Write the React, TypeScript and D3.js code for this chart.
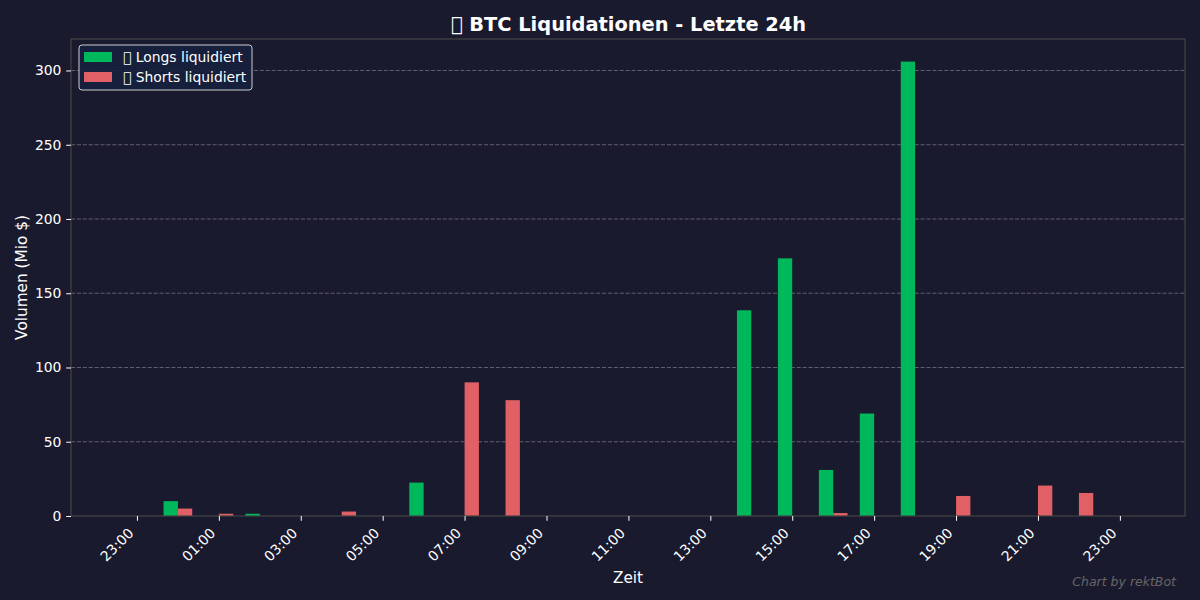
import React, { useRef, useEffect } from 'react';
import * as d3 from 'd3';

const hoursLong = [0, 2, 6, 14, 15, 16, 17, 18];
const valuesLong = [10, 1.5, 22.5, 138.5, 173.5, 31, 69, 306];
const hoursShort = [0, 1, 4, 7, 8, 16, 19, 21, 22];
const valuesShort = [5, 1.5, 3, 90, 78, 2, 13.5, 20.5, 15.5];
const tickHours = [-1, 1, 3, 5, 7, 9, 11, 13, 15, 17, 19, 21, 23];
const yTicks = [0, 50, 100, 150, 200, 250, 300];

const FONT = '"DejaVu Sans"';
const BG = '#1a1a2e';
const GREEN = '#00b85c';
const RED = '#e06065';
const MISSING = '\uE000'; // the reference shows an empty box where its glyph was missing

// hours are counted from midnight of the chart's second day
const toDate = (h: number) => new Date(Date.UTC(2024, 0, 2) + h * 3600000);

const App: React.FC = () => {
  const ref = useRef<SVGSVGElement | null>(null);

  useEffect(() => {
    if (!ref.current) return;
    const svg = d3.select(ref.current);
    svg.selectAll('*').remove();

    const margin = { top: 39, right: 15, bottom: 84, left: 71 };
    const width = 1200;
    const height = 600;

    const x = d3.scaleUtc()
      .domain([toDate(-2.61), toDate(24.59)])
      .range([margin.left, width - margin.right]);
    const y = d3.scaleLinear()
      .domain([0, 321.2])
      .range([height - margin.bottom, margin.top]);

    const barW = x(toDate(0.35)) - x(toDate(0));

    // grid
    svg.append('g')
      .selectAll('line')
      .data(yTicks.slice(1))
      .join('line')
      .attr('x1', margin.left)
      .attr('x2', width - margin.right)
      .attr('y1', d => y(d))
      .attr('y2', d => y(d))
      .attr('stroke', '#ffffff')
      .attr('stroke-opacity', 0.3)
      .attr('stroke-dasharray', '4.1 1.8');

    // bars
    svg.append('g')
      .selectAll('rect')
      .data(d3.zip(hoursLong, valuesLong))
      .join('rect')
      .attr('x', d => x(toDate(d[0])) - barW)
      .attr('y', d => y(d[1]))
      .attr('width', barW)
      .attr('height', d => y(0) - y(d[1]))
      .attr('fill', GREEN);

    svg.append('g')
      .selectAll('rect')
      .data(d3.zip(hoursShort, valuesShort))
      .join('rect')
      .attr('x', d => x(toDate(d[0])))
      .attr('y', d => y(d[1]))
      .attr('width', barW)
      .attr('height', d => y(0) - y(d[1]))
      .attr('fill', RED);

    // frame
    svg.append('rect')
      .attr('x', margin.left)
      .attr('y', margin.top)
      .attr('width', width - margin.left - margin.right)
      .attr('height', height - margin.top - margin.bottom)
      .attr('fill', 'none')
      .attr('stroke', '#444444')
      .attr('stroke-width', 1.2);

    // axes
    const xAxis = svg.append('g')
      .attr('transform', `translate(0,${height - margin.bottom})`)
      .call(d3.axisBottom(x)
        .tickValues(tickHours.map(toDate))
        .tickSize(4.8)
        .tickFormat(d => d3.utcFormat('%H:%M')(d as Date)));
    xAxis.select('.domain').remove();
    xAxis.selectAll('.tick line').attr('stroke', '#ffffff');
    xAxis.selectAll('.tick text')
      .attr('fill', '#ffffff')
      .attr('font-family', FONT)
      .attr('font-size', 13.9)
      .attr('text-anchor', 'end')
      .attr('x', 0)
      .attr('y', 0)
      .attr('dy', 0)
      .attr('transform', 'translate(-3,18) rotate(-45)');

    const yAxis = svg.append('g')
      .attr('transform', `translate(${margin.left},0)`)
      .call(d3.axisLeft(y).tickValues(yTicks).tickSize(4.8).tickPadding(4.8));
    yAxis.select('.domain').remove();
    yAxis.selectAll('.tick line').attr('stroke', '#ffffff');
    yAxis.selectAll('.tick text')
      .attr('fill', '#ffffff')
      .attr('font-family', FONT)
      .attr('font-size', 13.9);

    // labels
    svg.append('text')
      .attr('x', 628)
      .attr('y', 583)
      .attr('text-anchor', 'middle')
      .attr('fill', '#ffffff')
      .attr('font-family', FONT)
      .attr('font-size', 15.3)
      .text('Zeit');
    svg.append('text')
      .attr('transform', 'translate(26.5,277.5) rotate(-90)')
      .attr('text-anchor', 'middle')
      .attr('fill', '#ffffff')
      .attr('font-family', FONT)
      .attr('font-size', 15.3)
      .text('Volumen (Mio $)');
    svg.append('text')
      .attr('x', 628.5)
      .attr('y', 30.5)
      .attr('text-anchor', 'middle')
      .attr('fill', '#ffffff')
      .attr('font-family', FONT)
      .attr('font-weight', 'bold')
      .attr('font-size', 19.4)
      .text(`${MISSING} BTC Liquidationen - Letzte 24h`);
    svg.append('text')
      .attr('x', 1176)
      .attr('y', 586)
      .attr('text-anchor', 'end')
      .attr('fill', '#666666')
      .attr('font-family', FONT)
      .attr('font-style', 'italic')
      .attr('font-size', 12.5)
      .text('Chart by rektBot');

    // legend
    const legend = svg.append('g');
    legend.append('rect')
      .attr('x', 79)
      .attr('y', 45)
      .attr('width', 173)
      .attr('height', 45)
      .attr('rx', 3)
      .attr('fill', '#16213e')
      .attr('fill-opacity', 0.9)
      .attr('stroke', '#cccccc')
      .attr('stroke-width', 1);
    [
      { label: `${MISSING} Longs liquidiert`, color: GREEN },
      { label: `${MISSING} Shorts liquidiert`, color: RED },
    ].forEach((item, i) => {
      const rowY = 52 + i * 20;
      legend.append('rect')
        .attr('x', 84)
        .attr('y', rowY)
        .attr('width', 28)
        .attr('height', 10)
        .attr('fill', item.color);
      legend.append('text')
        .attr('x', 123)
        .attr('y', rowY + 10)
        .attr('fill', '#ffffff')
        .attr('font-family', FONT)
        .attr('font-size', 13.9)
        .text(item.label);
    });
  }, []);

  return (
    <svg
      ref={ref}
      width={1200}
      height={600}
      style={{ position: 'absolute', left: 0, top: 0, background: BG }}
    />
  );
};

export default App;
